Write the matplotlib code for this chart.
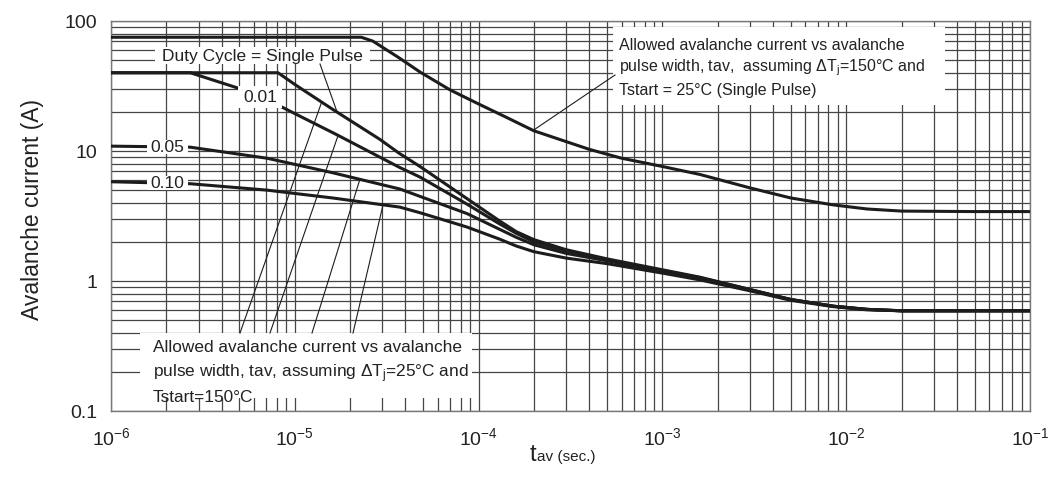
import numpy as np
import matplotlib
matplotlib.use("Agg")
import matplotlib.pyplot as plt
from matplotlib.patches import Rectangle
from matplotlib.ticker import FixedLocator, FixedFormatter, LogLocator

plt.rcParams['font.family'] = ['Liberation Sans', 'DejaVu Sans']
plt.rcParams['mathtext.default'] = 'regular'
plt.rcParams['axes.unicode_minus'] = False

# avalanche current (A) vs tav (s)
t_tstart25 = [1e-6, 2.3e-5, 2.66e-5, 3.7e-5, 4.8e-5, 7.0e-5, 1.0e-4, 1.4e-4, 2.0e-4, 3.0e-4,
              4.0e-4, 6.0e-4, 1.0e-3, 1.6e-3, 3.0e-3, 5.0e-3, 8.5e-3, 1.3e-2, 2.0e-2,
              5.0e-2, 1.0e-1]
i_tstart25 = [75, 75, 70, 52, 40.5, 29.5, 23, 18.3, 14.3, 11.8,
              10.3, 8.8, 7.6, 6.6, 5.2, 4.35, 3.85, 3.58, 3.45,
              3.42, 3.42]

t_single = [1e-6, 8.1e-6, 1.0e-5, 1.6e-5, 2.9e-5, 3.7e-5, 4.8e-5, 8.65e-5, 1.3e-4, 1.6e-4,
            2.0e-4, 3.0e-4, 5.0e-4, 1.0e-3, 1.6e-3, 3.0e-3, 5.0e-3, 8.5e-3, 1.3e-2,
            2.0e-2, 1.0e-1]
i_single = [40, 40, 32.5, 21, 12.3, 9.6, 7.6, 4.3, 2.9, 2.4,
            2.08, 1.74, 1.48, 1.22, 1.07, 0.86, 0.72, 0.64, 0.605,
            0.59, 0.59]

t_d001 = [1e-6, 2.7e-6, 4.9e-6, 8.5e-6, 1.0e-5, 1.7e-5, 3.7e-5, 4.8e-5, 8.65e-5, 1.3e-4,
          1.6e-4, 2.0e-4, 3.0e-4, 5.0e-4, 1.0e-3, 1.6e-3, 3.0e-3, 5.0e-3, 8.5e-3,
          1.3e-2, 2.0e-2, 1.0e-1]
i_d001 = [40, 40, 30.5, 21.8, 19.4, 13.3, 7.5, 6.3, 3.9, 2.75,
          2.33, 2.0, 1.70, 1.46, 1.20, 1.06, 0.86, 0.72, 0.64,
          0.605, 0.59, 0.59]

t_d005 = [1e-6, 2.7e-6, 7.06e-6, 1.61e-5, 3.73e-5, 8.65e-5, 1.3e-4, 1.6e-4, 2.0e-4,
          3.0e-4, 5.0e-4, 1.0e-3, 1.6e-3, 3.0e-3, 5.0e-3, 8.5e-3, 1.3e-2, 2.0e-2, 1.0e-1]
i_d005 = [10.9, 10.7, 8.8, 6.8, 5.1, 3.3, 2.5, 2.17, 1.9,
          1.63, 1.43, 1.18, 1.04, 0.85, 0.72, 0.64, 0.605, 0.59, 0.59]

t_d010 = [1e-6, 2.7e-6, 7.06e-6, 1.61e-5, 3.73e-5, 4.8e-5, 8.65e-5, 1.3e-4, 1.6e-4,
          2.0e-4, 3.0e-4, 5.0e-4, 1.0e-3, 1.6e-3, 3.0e-3, 5.0e-3, 8.5e-3, 1.3e-2,
          2.0e-2, 1.0e-1]
i_d010 = [5.8, 5.6, 5.0, 4.35, 3.7, 3.35, 2.6, 2.1, 1.86,
          1.68, 1.50, 1.36, 1.15, 1.02, 0.84, 0.71, 0.635, 0.6,
          0.59, 0.59]

y_ticks = [0.1, 1, 10, 100]
y_ticklabels = ['0.1', '1', '10', '100']

W, H = 1057, 486


def fig_xy(px, py):
    # pixel position in the picture -> figure fraction
    return px / W, 1 - py / H


def on_curve(t, i, x):
    return x, 10 ** np.interp(np.log10(x), np.log10(t), np.log10(i))


fig = plt.figure(figsize=(W / 100, H / 100), dpi=100)
ax = fig.add_axes([111 / W, 1 - 411 / H, 919 / W, 390 / H])
ax.set_xscale('log')
ax.set_yscale('log')
ax.set_xlim(1e-6, 1e-1)
ax.set_ylim(0.1, 100)

ax.xaxis.set_minor_locator(LogLocator(base=10, subs=np.arange(2, 10)))
ax.yaxis.set_minor_locator(LogLocator(base=10, subs=np.arange(2, 10)))
ax.yaxis.set_major_locator(FixedLocator(y_ticks))
ax.yaxis.set_major_formatter(FixedFormatter(y_ticklabels))
ax.grid(which='both', color='#454545', lw=0.9)
ax.tick_params(which='both', length=0, labelsize=14, colors='#222222')
ax.tick_params(axis='y', pad=10)
ax.tick_params(axis='x', pad=12)
for s in ax.spines.values():
    s.set_color('#777777')
    s.set_linewidth(1.0)

for t, i in [(t_tstart25, i_tstart25), (t_single, i_single), (t_d001, i_d001),
             (t_d005, i_d005), (t_d010, i_d010)]:
    ax.plot(t, i, color='#1c1c1c', lw=2.2, zorder=3, solid_capstyle='butt')

tf = fig.transFigure


def white_box(x0, y0, x1, y1):
    fx0, fy1 = fig_xy(x0, y1)
    fx1, fy0 = fig_xy(x1, y0)
    ax.add_patch(Rectangle((fx0, fy1), fx1 - fx0, fy0 - fy1, transform=tf,
                           facecolor='white', edgecolor='none', zorder=4, clip_on=False))


def leader(px, py, target):
    inv = ax.transData.inverted()
    start = inv.transform((px, H - py))
    ax.plot([start[0], target[0]], [start[1], target[1]], color='#1c1c1c',
            lw=0.8, zorder=5, clip_on=False)


# curve labels
white_box(155, 47, 370, 64)
ax.text(*fig_xy(262, 56), 'Duty Cycle = Single Pulse', transform=tf, fontsize=12.5,
        ha='center', va='center', color='#222222', zorder=6)
white_box(238, 86, 282, 108)
ax.text(*fig_xy(260, 97), '0.01', transform=tf, fontsize=12.5,
        ha='center', va='center', color='#222222', zorder=6)
white_box(147, 140, 188, 154)
ax.text(*fig_xy(167, 147), '0.05', transform=tf, fontsize=12.5,
        ha='center', va='center', color='#222222', zorder=6)
white_box(147, 176, 188, 190)
ax.text(*fig_xy(167, 183), '0.10', transform=tf, fontsize=12.5,
        ha='center', va='center', color='#222222', zorder=6)

# upper annotation
white_box(613, 27, 945, 105)
top_lines = ['Allowed avalanche current vs avalanche',
             r'pulse width, tav,  assuming ΔT$_{j}$=150°C and',
             'Tstart = 25°C (Single Pulse)']
for k, line in enumerate(top_lines):
    ax.text(*fig_xy(619, [45, 68, 91][k]), line, transform=tf, fontsize=11.5,
            ha='left', va='center', color='#222222', zorder=6)

# lower annotation
white_box(140, 333, 472, 398)
bot_lines = ['Allowed avalanche current vs avalanche',
             r'pulse width, tav, assuming ΔT$_{j}$=25°C and',
             'Tstart=150°C']
for k, line in enumerate(bot_lines):
    ax.text(*fig_xy(153, [347, 374, 397][k]), line, transform=tf, fontsize=12.4,
            ha='left', va='center', color='#222222', zorder=6)

# leader lines
leader(615, 75, on_curve(t_tstart25, i_tstart25, 1.98e-4))
leader(320, 64, on_curve(t_single, i_single, 1.7e-5))
leader(240, 333, on_curve(t_single, i_single, 1.4e-5))
leader(270, 333, on_curve(t_d001, i_d001, 1.72e-5))
leader(312, 333, on_curve(t_d005, i_d005, 2.26e-5))
leader(353, 333, on_curve(t_d010, i_d010, 3.02e-5))

# axis labels
fig.text(*fig_xy(33, 210), 'Avalanche current (A)', rotation=90, fontsize=16.5,
         ha='center', va='center', color='#222222')
fig.text(*fig_xy(536, 461), 't', fontsize=17, ha='right', va='baseline', color='#222222')
fig.text(*fig_xy(537, 461), 'av (sec.)', fontsize=11, ha='left', va='baseline',
         color='#222222')

fig.savefig('out.png', dpi=100)
